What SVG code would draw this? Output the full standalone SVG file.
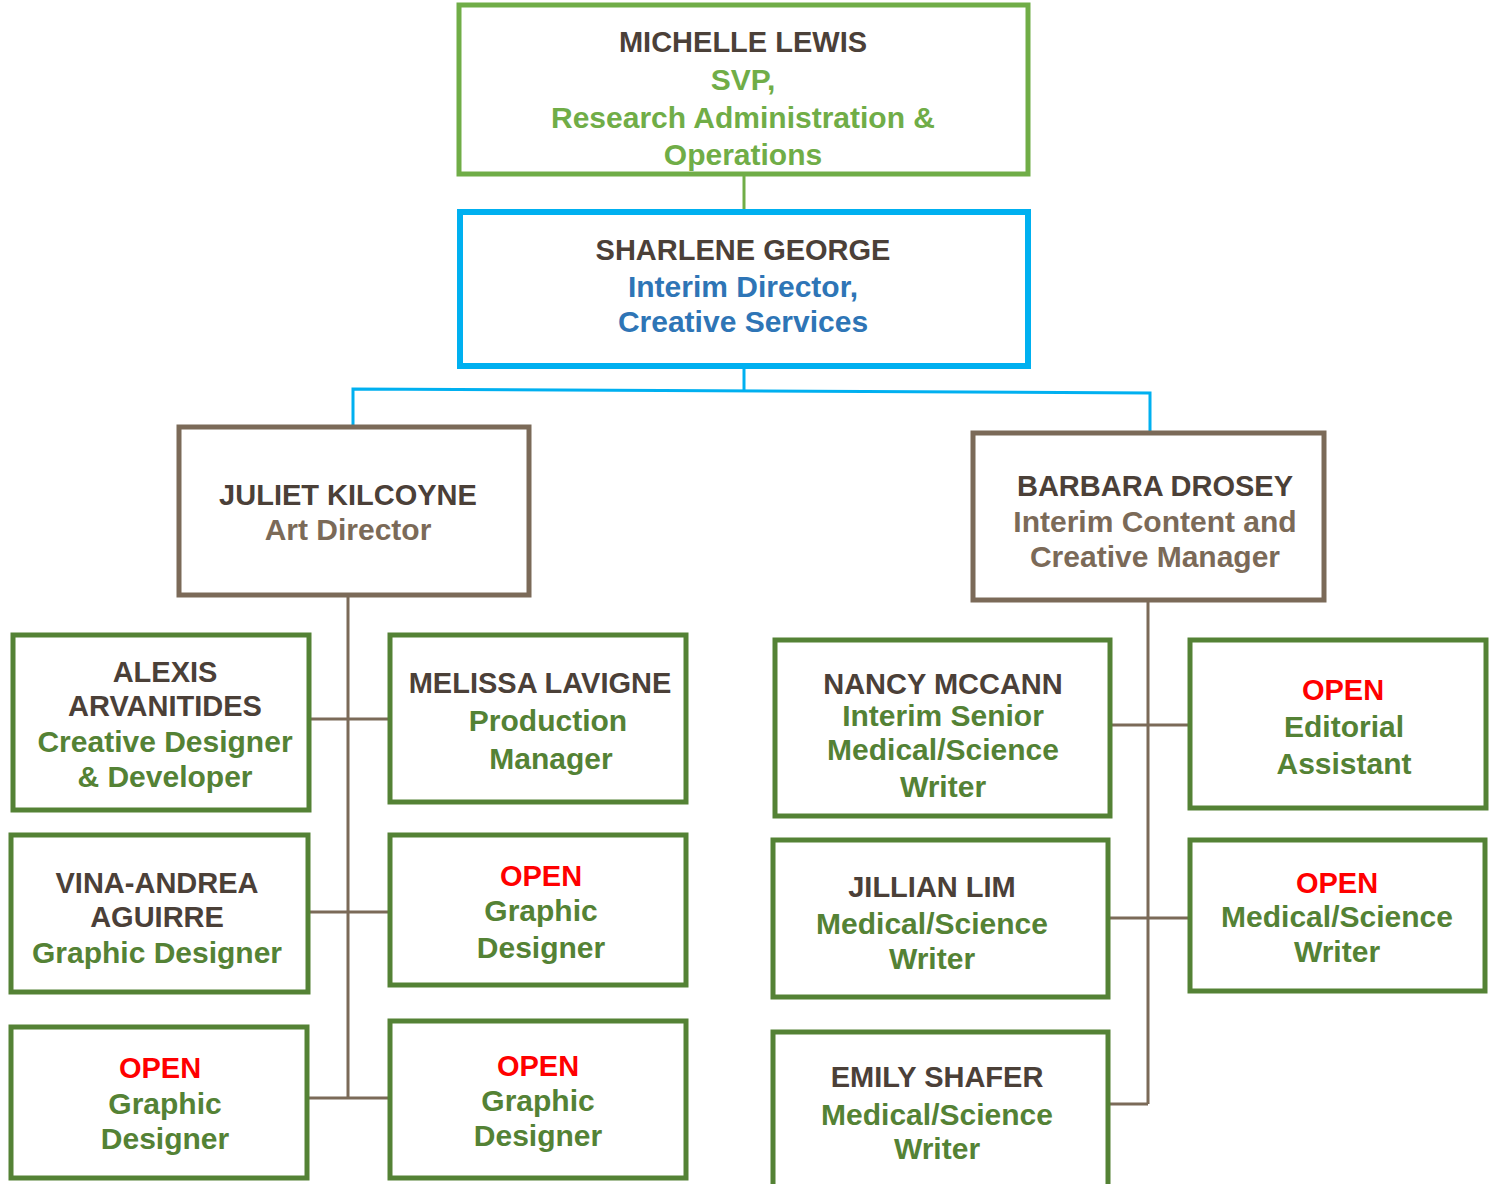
<svg xmlns="http://www.w3.org/2000/svg" width="1489" height="1184" viewBox="0 0 1489 1184">
<style>
text{font-family:"Liberation Sans",Arial,sans-serif;font-weight:bold;text-anchor:middle;font-size:29px}
.nm{fill:#4b4038}
.lg{fill:#70ad47;font-size:30px}
.bl{fill:#2e75b6;font-size:30px}
.br{fill:#7b6a58;font-size:30px}
.dg{fill:#548235;font-size:30px}
.op{fill:#ff0000}
.bx{fill:#fff;stroke-width:5}
.g1{stroke:#70ad47}
.b1{stroke:#00b0f0;stroke-width:6}
.bw{stroke:#7b6a58}
.g2{stroke:#548235}
.cn{fill:none;stroke-width:3}
</style>
<rect width="1489" height="1184" fill="#fff"/>
<g id="connectors">
<line class="cn" x1="744" y1="176" x2="744" y2="210" stroke="#70ad47"/>
<polyline class="cn" points="744,368 744,390" stroke="#00b0f0"/>
<polyline class="cn" points="353,426 353,389 1150,393 1150,431" stroke="#00b0f0"/>
<g stroke="#7b6a58" class="cn">
<line x1="348" y1="597" x2="348" y2="1098"/>
<line x1="311" y1="719" x2="389" y2="719"/>
<line x1="310" y1="912" x2="389" y2="912"/>
<line x1="309" y1="1098" x2="389" y2="1098"/>
<line x1="1148" y1="602" x2="1148" y2="1104"/>
<line x1="1112" y1="725" x2="1189" y2="725"/>
<line x1="1110" y1="918" x2="1189" y2="918"/>
<line x1="1110" y1="1104" x2="1148" y2="1104"/>
</g>
</g>
<g id="michelle">
<rect class="bx g1" x="459" y="5" width="569" height="169"/>
<text x="743" y="52" class="nm">MICHELLE LEWIS</text>
<text x="743" y="90" class="lg">SVP,</text>
<text x="743" y="128" class="lg">Research Administration &amp;</text>
<text x="743" y="165" class="lg">Operations</text>
</g>
<g id="sharlene">
<rect class="bx b1" x="460" y="212" width="568" height="154"/>
<text x="743" y="260" class="nm">SHARLENE GEORGE</text>
<text x="743" y="297" class="bl">Interim Director,</text>
<text x="743" y="332" class="bl">Creative Services</text>
</g>
<g id="juliet">
<rect class="bx bw" x="179" y="427" width="350" height="168"/>
<text x="348" y="505" class="nm">JULIET KILCOYNE</text>
<text x="348" y="540" class="br">Art Director</text>
</g>
<g id="barbara">
<rect class="bx bw" x="973" y="433" width="351" height="167"/>
<text x="1155" y="496" class="nm">BARBARA DROSEY</text>
<text x="1155" y="532" class="br">Interim Content and</text>
<text x="1155" y="567" class="br">Creative Manager</text>
</g>
<g id="alexis">
<rect class="bx g2" x="13" y="635" width="296" height="175"/>
<text x="165" y="682" class="nm">ALEXIS</text>
<text x="165" y="716" class="nm">ARVANITIDES</text>
<text x="165" y="752" class="dg">Creative Designer</text>
<text x="165" y="787" class="dg">&amp; Developer</text>
</g>
<g id="melissa">
<rect class="bx g2" x="390" y="635" width="296" height="167"/>
<text x="540" y="693" class="nm">MELISSA LAVIGNE</text>
<text x="548" y="731" class="dg">Production</text>
<text x="551" y="769" class="dg">Manager</text>
</g>
<g id="vina">
<rect class="bx g2" x="11" y="835" width="297" height="157"/>
<text x="157" y="893" class="nm">VINA-ANDREA</text>
<text x="157" y="927" class="nm">AGUIRRE</text>
<text x="157" y="963" class="dg">Graphic Designer</text>
</g>
<g id="open-gd-1">
<rect class="bx g2" x="390" y="835" width="296" height="150"/>
<text x="541" y="886" class="op">OPEN</text>
<text x="541" y="921" class="dg">Graphic</text>
<text x="541" y="958" class="dg">Designer</text>
</g>
<g id="open-gd-2">
<rect class="bx g2" x="11" y="1027" width="296" height="151"/>
<text x="160" y="1078" class="op">OPEN</text>
<text x="165" y="1114" class="dg">Graphic</text>
<text x="165" y="1149" class="dg">Designer</text>
</g>
<g id="open-gd-3">
<rect class="bx g2" x="390" y="1021" width="296" height="157"/>
<text x="538" y="1076" class="op">OPEN</text>
<text x="538" y="1111" class="dg">Graphic</text>
<text x="538" y="1146" class="dg">Designer</text>
</g>
<g id="nancy">
<rect class="bx g2" x="775" y="640" width="335" height="176"/>
<text x="943" y="694" class="nm">NANCY MCCANN</text>
<text x="943" y="726" class="dg">Interim Senior</text>
<text x="943" y="760" class="dg">Medical/Science</text>
<text x="943" y="797" class="dg">Writer</text>
</g>
<g id="open-ea">
<rect class="bx g2" x="1190" y="640" width="296" height="168"/>
<text x="1343" y="700" class="op">OPEN</text>
<text x="1344" y="737" class="dg">Editorial</text>
<text x="1344" y="774" class="dg">Assistant</text>
</g>
<g id="jillian">
<rect class="bx g2" x="773" y="840" width="335" height="157"/>
<text x="932" y="897" class="nm">JILLIAN LIM</text>
<text x="932" y="934" class="dg">Medical/Science</text>
<text x="932" y="969" class="dg">Writer</text>
</g>
<g id="open-msw">
<rect class="bx g2" x="1190" y="840" width="295" height="151"/>
<text x="1337" y="893" class="op">OPEN</text>
<text x="1337" y="927" class="dg">Medical/Science</text>
<text x="1337" y="962" class="dg">Writer</text>
</g>
<g id="emily">
<rect class="bx g2" x="773" y="1032" width="335" height="160"/>
<text x="937" y="1087" class="nm">EMILY SHAFER</text>
<text x="937" y="1125" class="dg">Medical/Science</text>
<text x="937" y="1159" class="dg">Writer</text>
</g>
</svg>
